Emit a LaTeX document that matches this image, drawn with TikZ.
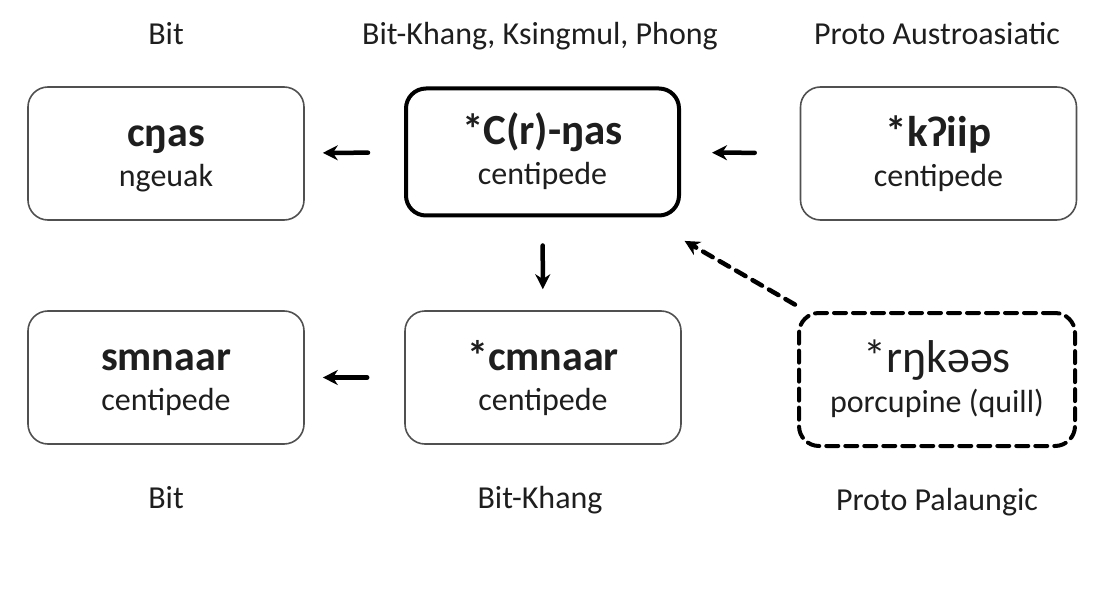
\documentclass[tikz,border=0pt]{standalone}
\usepackage{fontspec}
\setmainfont{Carlito}
\usepackage{tikz}
\usetikzlibrary{arrows.meta}
\usepackage{xcolor}
\definecolor{ink}{HTML}{1E1E1E}
\definecolor{edge}{HTML}{505050}

\begin{document}
\begin{tikzpicture}[x=1pt,y=-1pt,>={Stealth[length=15pt,width=15pt]},line cap=round,
  every node/.style={text=ink,font=\fontsize{32}{40}\selectfont},
  wordbox/.style={draw=edge,line width=1.6pt,rounded corners=20pt,minimum width=276pt,minimum height=133pt,
    align=center,text height=76pt,text depth=10pt},
  mainbox/.style={wordbox,draw=black,line width=4pt,minimum width=273pt,minimum height=127pt},
  loanbox/.style={wordbox,draw=black,line width=4pt,dash pattern=on 12pt off 7pt,minimum width=276pt,minimum height=133pt},
  hop/.style={->,line width=4.5pt,draw=black}]
\useasboundingbox (0,0) rectangle (1115,612);
\node[anchor=base] at (166,45) {Bit};
\node[anchor=base] at (540,45) {Bit-Khang, Ksingmul, Phong};
\node[anchor=base] at (937,45) {Proto Austroasiatic};
\node[anchor=base] at (166,508) {Bit};
\node[anchor=base] at (540,508) {Bit-Khang};
\node[anchor=base] at (937,510) {Proto Palaungic};
\node[wordbox] (cnas) at (166,153.5) {{\bfseries\fontsize{42}{40}\selectfont cŋas}\\ngeuak};
\node[mainbox] (crnas) at (542.5,152) {{\bfseries\fontsize{43}{40}\selectfont *C(r)-ŋas}\\centipede};
\node[wordbox] (kiip) at (938.5,153.5) {{\bfseries\fontsize{43}{40}\selectfont *kʔiip}\\centipede};
\node[wordbox] (smnaar) at (166,377.5) {{\bfseries\fontsize{42}{40}\selectfont smnaar}\\centipede};
\node[wordbox] (cmnaar) at (543,377.5) {{\bfseries\fontsize{42}{40}\selectfont *cmnaar}\\centipede};
\node[loanbox] (rnkaas) at (937,379.5) {{\fontsize{46}{40}\selectfont *rŋkəəs}\\porcupine (quill)};
\draw[hop,shorten <=36pt,shorten >=18pt] (crnas) -- (cnas);
\draw[hop,shorten <=45pt,shorten >=31pt] (kiip) -- (crnas);
\draw[hop,shorten <=28pt,shorten >=21pt] (crnas) -- (cmnaar);
\draw[hop,shorten <=37pt,shorten >=18pt] (cmnaar) -- (smnaar);
\draw[hop,dash pattern=on 11pt off 8pt,shorten <=164pt,shorten >=164pt] ([yshift=-7pt]rnkaas.center) -- ([yshift=-7pt]crnas.center);
\end{tikzpicture}
\end{document}
